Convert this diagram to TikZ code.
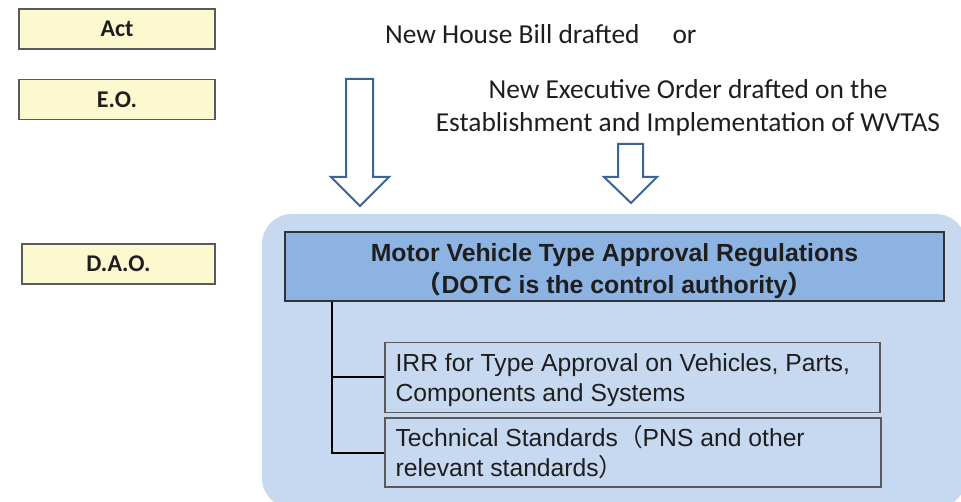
\documentclass[tikz,border=0pt]{standalone}
\usepackage{fontspec}
\setmainfont{Carlito}
\newfontfamily\arialf{Liberation Sans}
\newfontfamily\cjk{Noto Sans CJK SC}
\definecolor{bgblue}{HTML}{C6D9F0}
\definecolor{hdrblue}{HTML}{8DB3E2}
\definecolor{lawyellow}{HTML}{FCF8CF}
\definecolor{arrowblue}{HTML}{3B6494}
\definecolor{boxgray}{HTML}{5A5A5A}
\definecolor{txt}{HTML}{1E1E1E}
\tikzset{
  lawbox/.style={draw=boxgray, line width=1.3pt, fill=lawyellow, minimum height=40pt, inner sep=0pt,
    font=\fontsize{24}{28}\selectfont\bfseries, text=txt},
  hdrbox/.style={draw=black!80, line width=1.2pt, fill=hdrblue, minimum width=659pt, minimum height=69pt, inner sep=0pt},
  hdrtext/.style={align=center, inner sep=0pt, font=\arialf\fontsize{24.8}{32}\selectfont\bfseries, text=txt},
  subbox/.style={draw=boxgray, line width=1.2pt, fill=bgblue, minimum height=70pt, inner sep=0pt},
  subtext/.style={anchor=west, align=left, inner sep=0pt, font=\arialf\fontsize{24.7}{30}\selectfont, text=txt},
  bigarrow/.style={draw=arrowblue, line width=2pt, fill=white, line join=miter},
  conn/.style={draw=black, line width=2pt},
  plaintext/.style={inner sep=0pt, font=\fontsize{27.4}{33}\selectfont, text=txt}
}
\begin{document}
\begin{tikzpicture}[x=1pt,y=-1pt]
\useasboundingbox (0,0) rectangle (961,502);
% background panel
\fill[bgblue, rounded corners=30pt] (262,214) rectangle (966,508);
% left labels
\node[lawbox, minimum width=196pt] (act) at (117,29) {Act};
\node[lawbox, minimum width=196pt] (eo) at (117,99.5) {E.O.};
\node[lawbox, minimum width=193pt] (dao) at (118.5,264) {D.A.O.};
% top texts
\node[plaintext, anchor=west] (bill) at (385,34) {New House Bill drafted\hspace{33pt}or};
\node[plaintext, align=center] (neweo) at (688,108) {New Executive Order drafted on the\\Establishment and Implementation of WVTAS};
% block arrows
\draw[bigarrow] (346,79) coordinate (la) -- (373,79) -- (373,177) -- (389,177) -- (360,206) coordinate (latip) -- (331,177) -- (346,177) -- cycle;
\draw[bigarrow] (618,144) coordinate (ra) -- (643,144) -- (643,177) -- (657,177) -- (631,203) coordinate (ratip) -- (604,177) -- (618,177) -- cycle;
% header
\node[hdrbox] (hdr) at (614.5,266.5) {};
\node[hdrtext] (hdrt) at ([yshift=-5pt]hdr.center) {Motor Vehicle Type Approval Regulations\\{\cjk （}DOTC is the control authority{\cjk ）}};
% sub boxes
\node[subbox, minimum width=495pt] (irr) at (632.5,377.5) {};
\node[subtext] (irrt) at ([xshift=11pt,yshift=-3pt]irr.west) {IRR for Type Approval on Vehicles, Parts,\\Components and Systems};
\node[subbox, minimum width=496pt, minimum height=69pt] (tech) at (633,452.5) {};
\node[subtext] (techt) at ([xshift=11pt]tech.west) {Technical Standards{\cjk （}PNS and other\\relevant standards{\cjk ）}};
% connectors
\coordinate (trunk) at ([xshift=48pt]hdr.south west);
\draw[conn] (trunk) |- (irr.west);
\draw[conn] (trunk) |- (tech.west);
\end{tikzpicture}
\end{document}
